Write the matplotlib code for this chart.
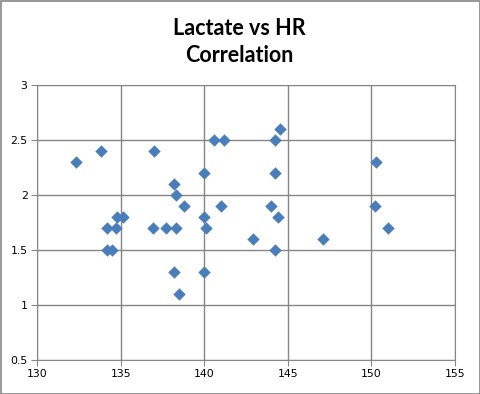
import matplotlib.pyplot as plt
from matplotlib.patches import Rectangle

# heart rate (x) and lactate (y)
hr = [132.3, 133.8, 134.2, 134.15, 134.45, 134.7, 134.8, 135.1, 137.0, 136.9,
      137.7, 138.2, 138.3, 138.3, 138.2, 138.5, 138.8, 140.0, 140.0, 140.1,
      140.0, 140.6, 141.2, 141.0, 142.9, 144.0, 144.2, 144.5, 144.2, 144.4,
      144.2, 147.1, 150.3, 150.2, 151.0]
lactate = [2.3, 2.4, 1.7, 1.5, 1.5, 1.7, 1.8, 1.8, 2.4, 1.7,
           1.7, 2.1, 2.0, 1.7, 1.3, 1.1, 1.9, 2.2, 1.8, 1.7,
           1.3, 2.5, 2.5, 1.9, 1.6, 1.9, 2.5, 2.6, 2.2, 1.8,
           1.5, 1.6, 2.3, 1.9, 1.7]
x_ticks = [130, 135, 140, 145, 150, 155]
y_ticks = [0.5, 1, 1.5, 2, 2.5, 3]
title = 'Lactate vs HR\nCorrelation'

grey = '#868686'

fig = plt.figure(figsize=(4.81, 3.94), dpi=100)
ax = fig.add_axes([37.3 / 481, 1 - 359.7 / 394, (455 - 37.3) / 481, (359.7 - 85) / 394])

ax.scatter(hr, lactate, marker='D', s=40, color='#4A7EBB', linewidths=0, zorder=3)

ax.set_xlim(130, 155)
ax.set_ylim(0.5, 3)
ax.set_xticks(x_ticks)
ax.set_yticks(y_ticks)
ax.set_xticklabels([str(t) for t in x_ticks])
ax.set_yticklabels([f'{t:g}' for t in y_ticks])
ax.grid(True, color=grey, linewidth=1)
ax.set_axisbelow(True)
for s in ax.spines.values():
    s.set_color(grey)
ax.tick_params(direction='out', length=4, color=grey, labelsize=7.8,
               labelcolor='black', pad=3)

fig.text(0.497, 1 - 42 / 394, title, ha='center', va='center',
         fontsize=15.5, fontweight='bold', family=['Lato', 'DejaVu Sans'],
         linespacing=1.4)

fig.patches.append(Rectangle((0.5 / 481, 0.5 / 394), 1 - 1.5 / 481, 1 - 1.5 / 394,
                             transform=fig.transFigure, fill=False,
                             edgecolor=grey, linewidth=1.2))

fig.savefig('out.png', dpi=100)
